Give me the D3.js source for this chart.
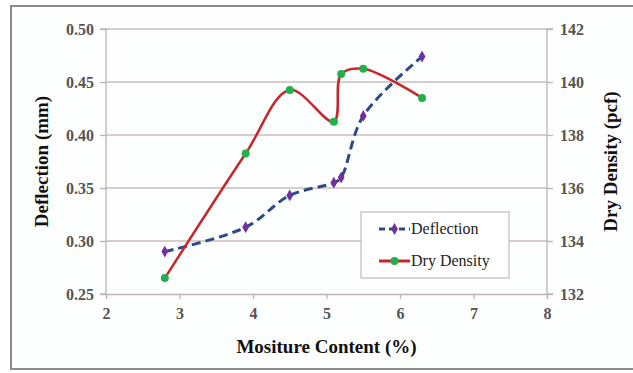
<!DOCTYPE html>
<html>
<head>
<meta charset="utf-8">
<script src="https://cdn.jsdelivr.net/npm/d3@7"></script>
<style>
  html, body { margin: 0; padding: 0; background: #ffffff; }
  svg { display: block; }
  svg text { font-family: "Liberation Serif", "DejaVu Serif", serif !important; }
</style>
</head>
<body>
<svg id="chart" width="633" height="373"></svg>
<script>
// Moisture content (%) of each sample
const moisture = [2.8, 3.9, 4.5, 5.1, 5.2, 5.5, 6.3];
// Measured deflection (mm)
const deflection = [0.29, 0.313, 0.343, 0.355, 0.36, 0.418, 0.474];
// Dry density (pcf)
const dryDensity = [132.6, 137.3, 139.7, 138.5, 140.3, 140.5, 139.4];

const xTicks = [2, 3, 4, 5, 6, 7, 8];
const leftTicks = [0.25, 0.30, 0.35, 0.40, 0.45, 0.50];
const rightTicks = [132, 134, 136, 138, 140, 142];
const seriesNames = ["Deflection", "Dry Density"];

const SERIF = "'Liberation Serif', 'DejaVu Serif', serif";
const svg = d3.select("#chart").attr("font-family", SERIF);
const W = 633, H = 373;
const plot = { left: 106, right: 547, top: 29, bottom: 294 };

// Outer frame
svg.append("rect")
  .attr("x", 0).attr("y", 0).attr("width", W).attr("height", H)
  .attr("fill", "#ffffff");
svg.append("rect")
  .attr("x", 11).attr("y", 6).attr("width", 640).attr("height", 363)
  .attr("fill", "#fdfefe").attr("stroke", "#8e8a88").attr("stroke-width", 2);

const x = d3.scaleLinear().domain([2, 8]).range([plot.left, plot.right]);
const yL = d3.scaleLinear().domain([0.25, 0.50]).range([plot.bottom, plot.top]);
const yR = d3.scaleLinear().domain([132, 142]).range([plot.bottom, plot.top]);

// Horizontal gridlines
svg.append("g").selectAll("line")
  .data(leftTicks.slice(1))
  .join("line")
  .attr("x1", plot.left).attr("x2", plot.right)
  .attr("y1", d => yL(d)).attr("y2", d => yL(d))
  .attr("stroke", "#cdbdbb").attr("stroke-width", 1.3);

const tickColor = "#555555";

// Left axis
const gL = svg.append("g")
  .attr("transform", `translate(${plot.left},0)`)
  .call(d3.axisLeft(yL).tickValues(leftTicks).tickFormat(d3.format(".2f")).tickSize(6).tickPadding(6));
// Right axis
const gR = svg.append("g")
  .attr("transform", `translate(${plot.right},0)`)
  .call(d3.axisRight(yR).tickValues(rightTicks).tickFormat(d3.format("d")).tickSize(6).tickPadding(7));
// Bottom axis
const gB = svg.append("g")
  .attr("transform", `translate(0,${plot.bottom})`)
  .call(d3.axisBottom(x).tickValues(xTicks).tickFormat(d3.format("d")).tickSize(5).tickPadding(9));

[gL, gR, gB].forEach(g => {
  g.attr("font-family", SERIF).attr("font-size", null);
  g.select(".domain").attr("stroke", "#bfb3b1").attr("stroke-width", 1.3);
  g.selectAll(".tick line").attr("stroke", "#bfb3b1").attr("stroke-width", 1.3);
  g.selectAll(".tick text")
    .attr("fill", tickColor)
    .attr("font-size", "16px")
    .attr("font-weight", "bold");
});
gL.select(".domain").attr("d", `M-6,${plot.top}H0V${plot.bottom}H-6`);
gR.select(".domain").attr("d", `M6,${plot.top}H0V${plot.bottom}H6`);

// Axis titles
svg.append("text")
  .attr("x", (plot.left + plot.right) / 2).attr("y", 353)
  .attr("text-anchor", "middle")
  .attr("font-size", "19px").attr("font-weight", "bold").attr("fill", "#111")
  .text("Mositure Content (%)");
svg.append("text")
  .attr("transform", `translate(48,${(plot.top + plot.bottom) / 2}) rotate(-90)`)
  .attr("text-anchor", "middle")
  .attr("font-size", "19px").attr("font-weight", "bold").attr("fill", "#111")
  .text("Deflection (mm)");
svg.append("text")
  .attr("transform", `translate(617,${(plot.top + plot.bottom) / 2}) rotate(-90)`)
  .attr("text-anchor", "middle")
  .attr("font-size", "19px").attr("font-weight", "bold").attr("fill", "#111")
  .text("Dry Density (pcf)");

const blue = "#2c4a86", purple = "#7030a0", red = "#c8262a", green = "#22b04b";

const defData = moisture.map((m, i) => [m, deflection[i]]);
const denData = moisture.map((m, i) => [m, dryDensity[i]]);

const lineL = d3.line().x(d => x(d[0])).y(d => yL(d[1])).curve(d3.curveCatmullRom.alpha(0.5));
const lineR = d3.line().x(d => x(d[0])).y(d => yR(d[1])).curve(d3.curveCatmullRom.alpha(0.5));

// Deflection series
svg.append("path").datum(defData)
  .attr("d", lineL).attr("fill", "none")
  .attr("stroke", blue).attr("stroke-width", 3).attr("stroke-dasharray", "9,5");
const diamond = d3.symbol().type(d3.symbolDiamond).size(40);
svg.append("g").selectAll("path")
  .data(defData).join("path")
  .attr("d", diamond)
  .attr("transform", d => `translate(${x(d[0])},${yL(d[1])})`)
  .attr("fill", purple);

// Dry density series
svg.append("path").datum(denData)
  .attr("d", lineR).attr("fill", "none")
  .attr("stroke", red).attr("stroke-width", 2.5);
svg.append("g").selectAll("circle")
  .data(denData).join("circle")
  .attr("cx", d => x(d[0])).attr("cy", d => yR(d[1])).attr("r", 4)
  .attr("fill", green);

// Legend
const lg = svg.append("g");
lg.append("rect")
  .attr("x", 361).attr("y", 212).attr("width", 148).attr("height", 66)
  .attr("fill", "#ffffff").attr("stroke", "#c9bfbd").attr("stroke-width", 1.3);
const items = [
  { name: seriesNames[0], y: 229, stroke: blue, dash: "6,4", marker: "diamond", mc: purple },
  { name: seriesNames[1], y: 261, stroke: red, dash: null, marker: "circle", mc: green }
];
items.forEach(it => {
  lg.append("line")
    .attr("x1", 379).attr("x2", 410).attr("y1", it.y).attr("y2", it.y)
    .attr("stroke", it.stroke).attr("stroke-width", 3)
    .attr("stroke-dasharray", it.dash);
  if (it.marker === "diamond") {
    lg.append("path").attr("d", diamond).attr("transform", `translate(394.5,${it.y})`).attr("fill", it.mc);
  } else {
    lg.append("circle").attr("cx", 394.5).attr("cy", it.y).attr("r", 4).attr("fill", it.mc);
  }
  lg.append("text")
    .attr("x", 411).attr("y", it.y + 5)
    .attr("font-size", "16px").attr("fill", "#222")
    .text(it.name);
});
</script>
</body>
</html>
